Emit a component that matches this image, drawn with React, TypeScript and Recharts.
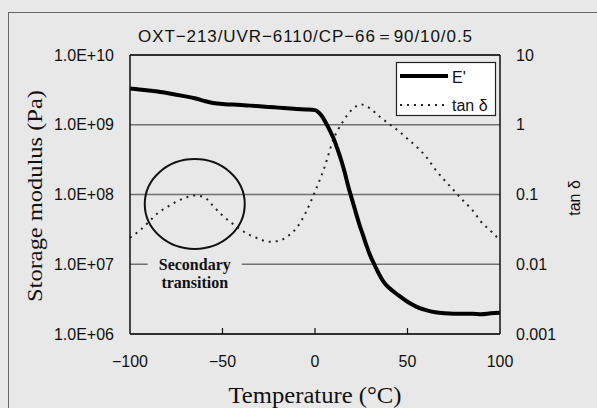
import React from 'react';
import {
  ComposedChart,
  Line,
  XAxis,
  YAxis,
  CartesianGrid,
  ReferenceLine,
  ReferenceDot,
} from 'recharts';

// temperature (°C)
const temps = [
  -100, -95, -90, -85, -80, -75, -70, -65, -60, -55, -50, -45, -40, -35, -30, -25, -20, -15, -10, -5,
  0, 2, 4, 6, 8, 10, 12, 14, 16, 18, 20, 22, 24, 26, 28, 30, 32, 34, 36, 38, 40,
  45, 50, 55, 60, 65, 70, 75, 80, 85, 90, 95, 100,
];

// storage modulus E' (Pa)
const modulus = [
  3.3e9, 3.2e9, 3.1e9, 3.0e9, 2.85e9, 2.7e9, 2.55e9, 2.4e9, 2.2e9, 2.05e9, 1.98e9, 1.95e9, 1.92e9,
  1.88e9, 1.84e9, 1.8e9, 1.76e9, 1.72e9, 1.68e9, 1.66e9,
  1.62e9, 1.5e9, 1.3e9, 1.05e9, 8.3e8, 6.4e8, 4.6e8, 3.2e8, 2.1e8, 1.3e8, 8.5e7, 5.6e7, 3.7e7, 2.6e7,
  1.8e7, 1.3e7, 1.0e7, 7.8e6, 6.2e6, 5.2e6, 4.6e6,
  3.6e6, 2.9e6, 2.45e6, 2.2e6, 2.05e6, 1.98e6, 1.95e6, 1.95e6, 1.95e6, 1.92e6, 1.98e6, 2.02e6,
];

// tan δ at 5 °C steps
const tanTemps = [
  -100, -95, -90, -85, -80, -75, -70, -65, -60, -55, -50, -45, -40, -35, -30, -25, -20, -15, -10, -5,
  0, 5, 10, 15, 20, 25, 30, 35, 40, 45, 50, 55, 60, 65, 70, 75, 80, 85, 90, 95, 100,
];
const tanDelta = [
  0.024, 0.03, 0.04, 0.054, 0.066, 0.079, 0.09, 0.097, 0.092, 0.068, 0.05, 0.039, 0.031, 0.026, 0.023,
  0.021, 0.0215, 0.025, 0.033, 0.055,
  0.11, 0.24, 0.62, 1.1, 1.65, 1.95, 1.7, 1.3, 1.03, 0.82, 0.63, 0.48, 0.35, 0.23, 0.16, 0.115, 0.082,
  0.06, 0.04, 0.03, 0.022,
];

const xTicks = [-100, -50, 0, 50, 100];
const leftTicks = [1e6, 1e7, 1e8, 1e9, 1e10];
const rightTicks = [0.001, 0.01, 0.1, 1, 10];

const modulusData = temps.map((t, i) => ({ t, e: modulus[i] }));
const tanData = tanTemps.map((t, i) => ({ t, tan: tanDelta[i] }));

const BG = '#e8e8e8';
const SANS = '"Liberation Sans", Arial, sans-serif';
const SERIF = '"Liberation Serif", "Times New Roman", serif';

const fmtExp = (v: number) => '1.0E+' + String(Math.round(Math.log10(v))).padStart(2, '0');
const fmtTemp = (v: number) => (v < 0 ? '\u2212' + Math.abs(v) : String(v));

function XTick(props: any) {
  const { x, y, payload } = props;
  const inner = payload.value !== -100 && payload.value !== 100;
  return (
    <g>
      {inner && <line x1={x} x2={x} y1={y} y2={y - 6} stroke="#111" strokeWidth={1.2} />}
      <text x={x} y={y + 33} textAnchor="middle" fontSize={16} fontFamily={SANS} fill="#111">
        {fmtTemp(payload.value)}
      </text>
    </g>
  );
}

function Circle(props: any) {
  return <ellipse cx={props.cx} cy={props.cy} rx={50} ry={45} fill="none" stroke="#111" strokeWidth={2} />;
}

function Note(props: any) {
  const { cx, cy } = props;
  return (
    <g>
      <rect x={cx - 47} y={cy - 8} width={94} height={14} fill={BG} />
      <text x={cx} y={cy + 6} textAnchor="middle" fontSize={16} fontWeight="bold" fontFamily={SERIF} fill="#111">
        Secondary
      </text>
      <text x={cx} y={cy + 24} textAnchor="middle" fontSize={16} fontWeight="bold" fontFamily={SERIF} fill="#111">
        transition
      </text>
    </g>
  );
}

export default function App() {
  return (
    <div style={{ position: 'absolute', left: 0, top: 0, width: 597, height: 408, background: BG, overflow: 'hidden' }}>
      <div
        style={{
          position: 'absolute',
          left: 8,
          top: 12,
          width: 620,
          height: 420,
          borderLeft: '1.5px solid #666',
          borderTop: '1.5px solid #666',
        }}
      />
      <ComposedChart
        width={597}
        height={408}
        margin={{ top: 55, right: 0, bottom: 0, left: 0 }}
        style={{ position: 'absolute', left: 0, top: 0 }}
      >
        <CartesianGrid yAxisId="left" vertical={false} stroke="#707070" strokeWidth={1.5} />
        <XAxis
          type="number"
          dataKey="t"
          domain={[-100, 100]}
          ticks={xTicks}
          allowDuplicatedCategory={false}
          height={74}
          tickSize={0}
          tickMargin={0}
          tick={<XTick />}
          axisLine={{ stroke: '#111', strokeWidth: 1.5 }}
        />
        <YAxis
          yAxisId="left"
          scale="log"
          domain={[1e6, 1e10]}
          ticks={leftTicks}
          allowDataOverflow
          width={130}
          tickLine={false}
          tickMargin={10}
          tickFormatter={fmtExp}
          tick={{ fontSize: 16, fontFamily: SANS, fill: '#111' }}
          axisLine={{ stroke: '#111', strokeWidth: 1.5 }}
        />
        <YAxis
          yAxisId="right"
          orientation="right"
          scale="log"
          domain={[0.001, 10]}
          ticks={rightTicks}
          allowDataOverflow
          width={97}
          tickLine={false}
          tickMargin={10}
          tickFormatter={(v: number) => String(v)}
          tick={{ fontSize: 16, fontFamily: SANS, fill: '#111', textAnchor: 'start' }}
          axisLine={{ stroke: '#111', strokeWidth: 1.5 }}
        />
        <ReferenceLine yAxisId="left" y={1e10} stroke="#111" strokeWidth={1.5} />
        <Line
          yAxisId="right"
          data={tanData}
          dataKey="tan"
          type="monotone"
          stroke="#222"
          strokeWidth={2}
          strokeDasharray="2 5"
          dot={false}
          isAnimationActive={false}
        />
        <Line
          yAxisId="left"
          data={modulusData}
          dataKey="e"
          type="monotone"
          stroke="#000"
          strokeWidth={4}
          dot={false}
          isAnimationActive={false}
        />
        <ReferenceDot yAxisId="right" x={-65} y={0.073} shape={<Circle />} />
        <ReferenceDot yAxisId="left" x={-65} y={1e7} shape={<Note />} />
      </ComposedChart>
      <svg width={597} height={408} style={{ position: 'absolute', left: 0, top: 0, pointerEvents: 'none' }}>
        <text x={305} y={42} textAnchor="middle" fontSize={17} fontFamily={SANS} fill="#111" textLength={334} lengthAdjust="spacing">
          OXT{'\u2212'}213/UVR{'\u2212'}6110/CP{'\u2212'}66＝90/10/0.5
        </text>
        <text
          transform="translate(42,196) rotate(-90)"
          textAnchor="middle"
          fontSize={22}
          fontFamily={SERIF}
          fill="#111"
          textLength={212}
          lengthAdjust="spacingAndGlyphs"
        >
          Storage modulus (Pa)
        </text>
        <text x={315} y={403} textAnchor="middle" fontSize={23} fontFamily={SERIF} fill="#111" textLength={173} lengthAdjust="spacingAndGlyphs">
          Temperature (°C)
        </text>
        <text transform="translate(580,198) rotate(-90)" textAnchor="middle" fontSize={16} fontFamily={SANS} fill="#111">
          tan δ
        </text>
        <g>
          <rect x={396.5} y={62.5} width={99} height={53} fill="#fff" stroke="#222" strokeWidth={1.2} />
          <line x1={400} x2={448} y1={76} y2={76} stroke="#000" strokeWidth={4} />
          <text x={452} y={83} fontSize={16} fontFamily={SANS} fill="#111">E'</text>
          <line x1={400} x2={448} y1={105} y2={105} stroke="#222" strokeWidth={2} strokeDasharray="2 5" />
          <text x={452} y={111} fontSize={16} fontFamily={SANS} fill="#111">tan δ</text>
        </g>
      </svg>
    </div>
  );
}
